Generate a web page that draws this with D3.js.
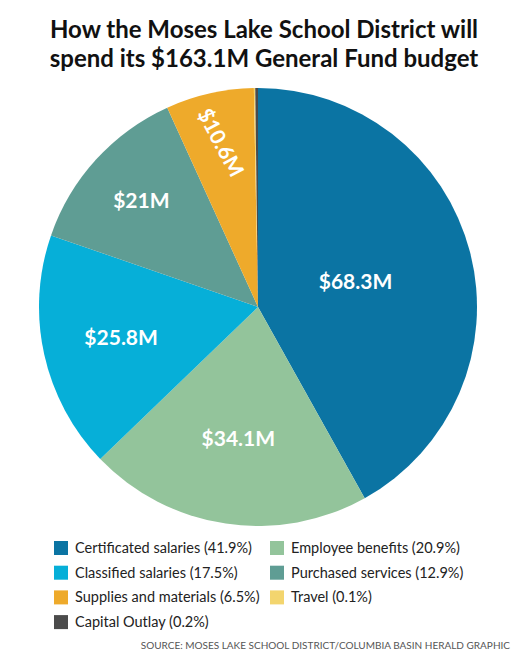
<!DOCTYPE html>
<html>
<head>
<meta charset="utf-8">
<script src="https://cdn.jsdelivr.net/npm/d3@7"></script>
<style>
  body { margin: 0; background: #fff; }
  svg { display: block; font-family: Lato, "Noto Sans", sans-serif; }
</style>
</head>
<body>
<svg id="chart" width="529" height="658"></svg>
<script>
// budget categories, in pie order (clockwise from 12 o'clock)
var categories = ["Certificated salaries", "Employee benefits", "Classified salaries",
	"Purchased services", "Supplies and materials", "Travel", "Capital Outlay"];
var percents = [41.9, 20.9, 17.5, 12.9, 6.5, 0.1, 0.2];
var amountLabels = ["$68.3M", "$34.1M", "$25.8M", "$21M", "$10.6M", "", ""];
var colors = ["#0b74a3", "#93c49b", "#06afd8", "#5f9d94", "#eeaa2b", "#f3d56e", "#4b4b4b"];

// legend reads row by row, two columns
var legendOrder = ["Certificated salaries", "Employee benefits", "Classified salaries",
	"Purchased services", "Supplies and materials", "Travel", "Capital Outlay"];

// label placement as fraction of the radius
var labelRadius = [0.46, 0.61, 0.64, 0.72, 0.77, 0, 0];
var labelRotate = [0, 0, 0, 0, 62, 0, 0];

var svg = d3.select("#chart");
var cx = 258, cy = 307, r = 219;

svg.append("text")
	.attr("x", 264).attr("y", 38)
	.attr("text-anchor", "middle")
	.style("font-size", "24px").style("font-weight", "bold").style("fill", "#111")
	.text("How the Moses Lake School District will");
svg.append("text")
	.attr("x", 264).attr("y", 67)
	.attr("text-anchor", "middle")
	.style("font-size", "24px").style("font-weight", "bold").style("fill", "#111")
	.text("spend its $163.1M General Fund budget");

var data = categories.map(function(c, i){
	return {name: c, pct: percents[i], label: amountLabels[i], color: colors[i], lr: labelRadius[i], rot: labelRotate[i]};
});

var pie = d3.pie().sort(null).value(function(d){ return d.pct; });
var arc = d3.arc().innerRadius(0).outerRadius(r);

var g = svg.append("g").attr("transform", "translate(" + cx + "," + cy + ")");
var arcs = pie(data);

g.selectAll("path")
	.data(arcs)
	.enter()
	.append("path")
	.attr("d", arc)
	.style("fill", function(d){ return d.data.color; });

g.selectAll("text")
	.data(arcs.filter(function(d){ return d.data.label; }))
	.enter()
	.append("text")
	.attr("transform", function(d){
		var a = d3.arc().innerRadius(r * d.data.lr).outerRadius(r * d.data.lr);
		var p = a.centroid(d);
		return "translate(" + p[0] + "," + p[1] + ") rotate(" + d.data.rot + ")";
	})
	.attr("text-anchor", "middle")
	.attr("dy", "0.35em")
	.style("fill", "#fff").style("font-size", "21px").style("font-weight", "bold")
	.text(function(d){ return d.data.label; });

// legend
var legend = svg.append("g");
var colX = [54, 270], rowY = 548, rowH = 24.7;
legendOrder.forEach(function(name, i){
	var d = data[categories.indexOf(name)];
	var item = legend.append("g")
		.attr("transform", "translate(" + colX[i % 2] + "," + (rowY + Math.floor(i / 2) * rowH) + ")");
	item.append("rect")
		.attr("x", 0).attr("y", -7)
		.attr("width", 14).attr("height", 14)
		.style("fill", d.color);
	item.append("text")
		.attr("x", 21).attr("dy", "0.35em")
		.style("font-size", "14.5px").style("fill", "#222")
		.text(d.name + " (" + d.pct.toFixed(1) + "%)");
});

svg.append("text")
	.attr("x", 510).attr("y", 649)
	.attr("text-anchor", "end")
	.style("font-size", "10px").style("fill", "#555")
	.text("SOURCE: MOSES LAKE SCHOOL DISTRICT/COLUMBIA BASIN HERALD GRAPHIC");
</script>
</body>
</html>
